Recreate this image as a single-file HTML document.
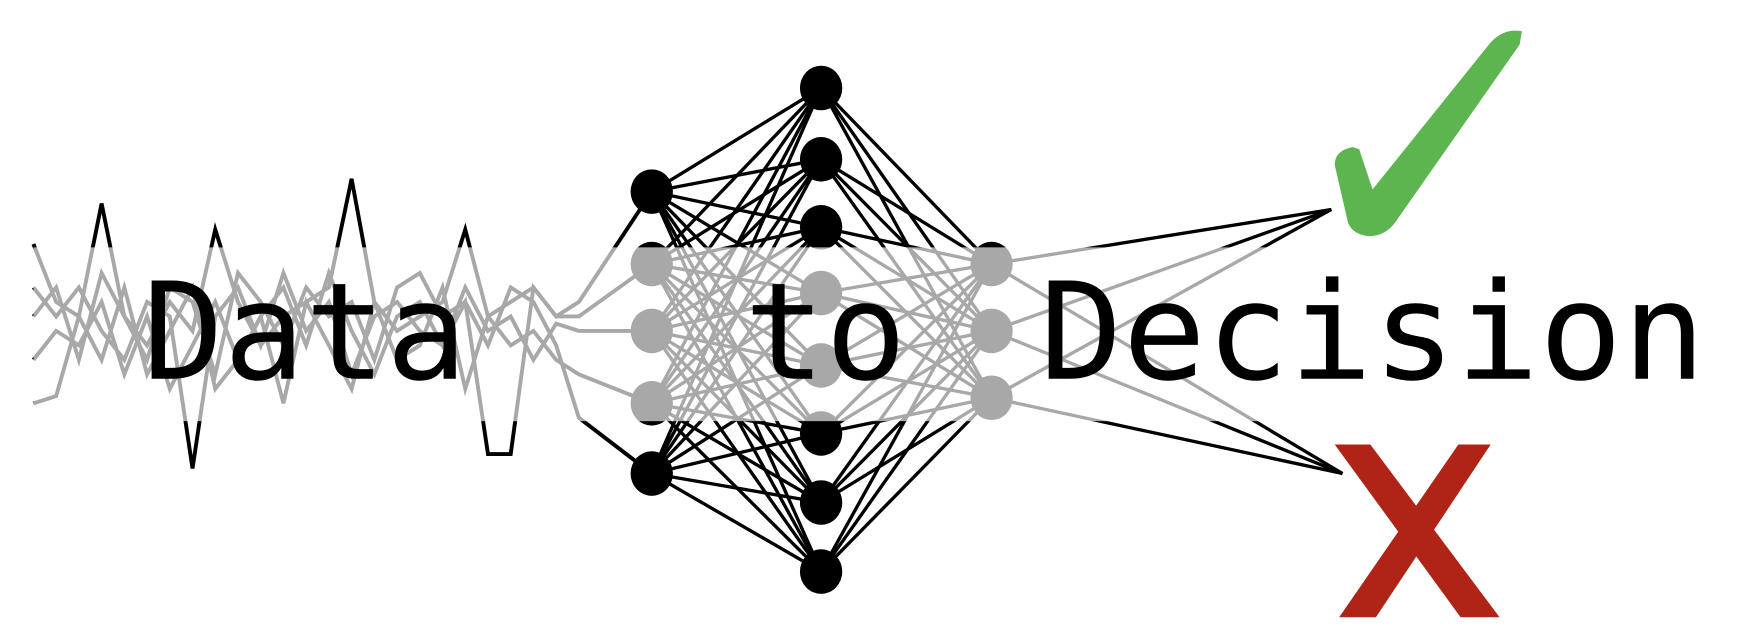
<!DOCTYPE html>
<html><head><meta charset="utf-8"><style>
html,body{margin:0;padding:0;background:#fff;width:1738px;height:644px;overflow:hidden}
svg{display:block}
</style></head><body>
<svg id="logo" width="1738" height="644" viewBox="0 0 1560 578" preserveAspectRatio="none" xmlns="http://www.w3.org/2000/svg">
<g id="series"></g>
<g id="edges"></g>
<g id="nodes"></g>
<rect x="30" y="222" width="1160" height="156" fill="#fff" opacity="0.66"/>
<g font-family="'DejaVu Sans Mono','Liberation Mono',monospace" font-size="121" fill="#000">
<text x="128" y="340">Data</text>
<text x="668" y="340">to</text>
<text x="933" y="340" textLength="598" lengthAdjust="spacingAndGlyphs">Decision</text>
</g>
<path fill="#5cb54f" d="M1198,148 Q1198,135 1214,132 L1220,134 L1232,170 L1338,38 Q1350,25 1366,28 L1364,40 L1252,200 Q1243,212 1228,212 Q1214,210 1210,200 Z"/>
<g fill="#b02418">
<polygon points="1198,399 1230,399 1346,554 1311,554"/>
<polygon points="1309,399 1338,399 1235,554 1202,554"/>
</g>
</svg>
<script>
const S1=[0.6,0.2,0.1,0.88,0.1,-0.1,0.2,0,0.7,0.2,-0.1,0.1,0.2,0.3,1.05,0.2,0,0.1,0.2,0.7,0.1,0.2,0.3,0.1,0.2];
const S2=[0.3,0.1,0.3,0,-0.2,0.2,0.1,-0.95,0.1,0.3,-0.1,0.4,0,0.2,-0.3,0.1,0.2,0,-0.1,0.2,-0.85,-0.85,0.3,0.1,0.1];
const S3=[-0.2,0,-0.1,0.2,-0.3,0.1,-0.4,-0.1,0.2,-0.2,0.1,0.3,-0.1,0.4,0,-0.3,0.1,0.2,-0.1,0.3,0,0.1,-0.2,0.05,0];
const S4=[-0.5,-0.45,0.1,-0.2,0.3,-0.3,0,0.3,-0.4,-0.2,0.1,-0.5,0.2,-0.1,-0.4,0.2,-0.2,-0.1,0.3,-0.4,0.1,-0.1,0,-0.2,-0.3];
const S5=[0.1,0.3,-0.2,0.4,0.1,-0.2,0.3,0.2,-0.3,0.4,0.2,-0.1,0.3,0.1,0.2,-0.2,0.3,0.4,0.1,0.2,-0.1,0.3,0.2,-0.1,-0.6];
const seriesList=[S1,S2,S3,S4,S5];
const L1=[172,237,297,362,425];
const L2=[79,143,204,263,328,389,451,513];
const L3=[237,297,357];
const OUT=[188,425];
const NS='http://www.w3.org/2000/svg';
const xS=i=>30+i*20.4;
const yS=v=>297-v*130;
const sg=document.getElementById('series');
seriesList.forEach((s,k)=>{
  const p=document.createElementNS(NS,'polyline');
  const pts=s.map((v,i)=>xS(i)+','+yS(v));
  pts.push('585,'+L1[k]);
  p.setAttribute('points',pts.join(' '));
  p.setAttribute('fill','none');p.setAttribute('stroke','#000');p.setAttribute('stroke-width','3.5');p.setAttribute('stroke-linejoin','miter');
  
  
  sg.appendChild(p);
});
const eg=document.getElementById('edges');
function line(x1,y1,x2,y2){const l=document.createElementNS(NS,'line');
l.setAttribute('x1',x1);l.setAttribute('y1',y1);l.setAttribute('x2',x2);l.setAttribute('y2',y2);
l.setAttribute('stroke','#000');l.setAttribute('stroke-width','3');


eg.appendChild(l);}
L1.forEach(a=>L2.forEach(b=>line(585,a,737,b)));
L2.forEach(a=>L3.forEach(b=>line(737,a,890,b)));
L3.forEach(a=>{line(890,a,1195,OUT[0]);line(890,a,1205,OUT[1]);});
const ng=document.getElementById('nodes');
function node(x,y){const c=document.createElementNS(NS,'ellipse');
c.setAttribute('cx',x);c.setAttribute('cy',y);c.setAttribute('rx',19);c.setAttribute('ry',20);c.setAttribute('fill','#000');


ng.appendChild(c);}
L1.forEach(y=>node(585,y));L2.forEach(y=>node(737,y));L3.forEach(y=>node(890,y));
</script>
</body></html>
